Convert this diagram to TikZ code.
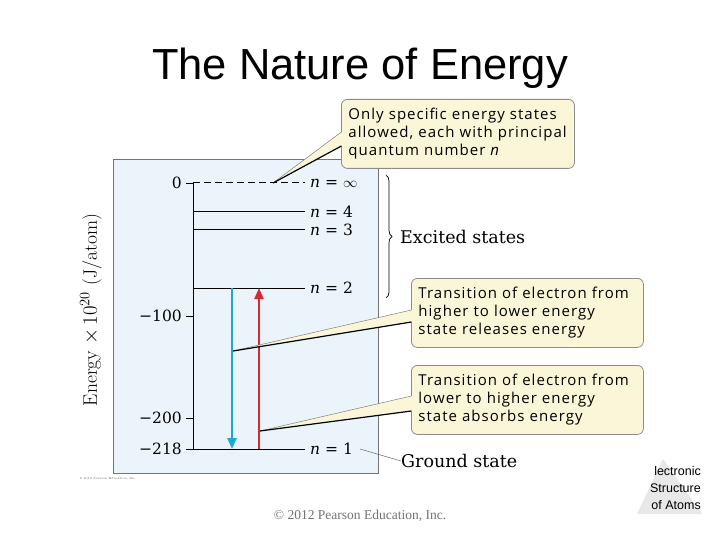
\documentclass[tikz,border=0pt]{standalone}
\usepackage{fontspec}
\usetikzlibrary{arrows.meta,decorations.pathreplacing,calc}
\newfontfamily\titlefont{Liberation Sans}
\newfontfamily\callfont[LetterSpace=7]{Open Sans}
\newfontfamily\labfont{DejaVu Serif}
\newfontfamily\footfont{Liberation Serif}
\definecolor{panelfill}{HTML}{EBF4FB}
\definecolor{calloutfill}{HTML}{FBF6D8}
\definecolor{downblue}{HTML}{1CA9D9}
\definecolor{upred}{HTML}{D42A32}
\begin{document}
\begin{tikzpicture}[x=1pt,y=-1pt,
  callout/.style={draw=black!45, fill=calloutfill, rounded corners=6pt, line width=0.8pt,
    align=left, inner xsep=7pt, inner ysep=3pt, text width=222pt, minimum height=69pt,
    anchor=north west, font=\callfont\fontsize{15}{18}\selectfont},
  lvline/.style={line width=1pt},
  lvlabel/.style={anchor=west, inner xsep=5pt, inner ysep=0pt, font=\labfont\fontsize{15.5}{18}\selectfont},
  ticklabel/.style={anchor=east, inner xsep=4pt, inner ysep=0pt, font=\labfont\fontsize{15.5}{18}\selectfont},
  wedgeshadow/.style={draw=black, line width=1.2pt},
  sidetext/.style={anchor=west, inner sep=0pt, font=\labfont\fontsize{17.5}{20}\selectfont},
]
\useasboundingbox (0,0) rectangle (720,540);
\fill[white] (0,0) rectangle (720,540);

% title
\node[font=\titlefont\fontsize{43.5}{48}\selectfont, anchor=base, inner sep=0pt] (title) at (360,80) {The Nature of Energy};

% panel
\node[draw=black!55, fill=panelfill, line width=0.8pt, minimum width=265pt, minimum height=314pt,
  anchor=north west, inner sep=0pt] (panel) at (113,159) {};
\node[anchor=west, inner sep=0pt, font=\fontsize{3}{4}\selectfont, text=black!60] (tinycopy) at (80,479) {\copyright\ 2012 Pearson Education, Inc.};

% axis
\coordinate (ax0) at (193,183);
\coordinate (ax100) at (193,316);
\coordinate (ax200) at (193,418);
\coordinate (ax218) at (193,449);
\draw[line width=0.8pt] (ax0) -- (ax218);
\foreach \c in {ax0,ax100,ax200,ax218}{\draw[line width=0.8pt] (\c) -- ++(-7,0);}
\node[ticklabel] (t0) at (186,183) {0};
\node[ticklabel] (t100) at (186,316) {−100};
\node[ticklabel] (t200) at (186,418) {−200};
\node[ticklabel] (t218) at (186,449) {−218};

% levels
\node[lvlabel] (linf) at (305,183) {\textit{n} = $\infty$};
\node[lvlabel] (l4) at (305,212) {\textit{n} = 4};
\node[lvlabel] (l3) at (305,230) {\textit{n} = 3};
\node[lvlabel] (l2) at (305,288) {\textit{n} = 2};
\node[lvlabel] (l1) at (305,449) {\textit{n} = 1};
\draw[lvline, dash pattern=on 7pt off 4pt] (ax0) -- (linf.west);
\draw[lvline] (193,212) -- (l4.west);
\draw[lvline] (193,230) -- (l3.west);
\coordinate (lv2) at (193,288);
\draw[lvline] (lv2) -- (l2.west);
\draw[lvline] (186,449) -- (l1.west);

% y label
\node[rotate=90, font=\fontsize{19.5}{22}\selectfont, inner sep=0pt] (ylab) at (91,310) {Energy $\times\,10^{20}$ (J/atom)};

% transitions
\coordinate (bTop) at (232,288);
\coordinate (bBot) at (232,449);
\coordinate (rTop) at (259,288);
\coordinate (rBot) at (259,449);
\draw[downblue, line width=2.3pt, -{Triangle[length=11pt,width=9pt]}] (bTop) -- (bBot);
\draw[upred, line width=2.3pt, -{Triangle[length=11pt,width=9pt]}] (rBot) -- (rTop);

% brace
\draw[line width=0.7pt, decorate, decoration={brace, amplitude=6pt}] (386,175) -- (386,298);
\node[sidetext] (exc) at (400,237) {Excited states};
\node[sidetext] (gs) at (401,461) {Ground state};
\draw[line width=0.4pt, black!70] (l1.east) ++(2,0) -- (gs.west);

% callouts
\node[callout, minimum width=233pt, text width=219pt] (c1) at (341,99) {Only specific energy states\\allowed, each with principal\\quantum number \textit{n}};
\node[callout, minimum width=232pt, text width=218pt] (c2) at (411,278) {Transition of electron from\\higher to lower energy\\state releases energy};
\node[callout, minimum width=232pt, text width=218pt] (c3) at (411,365) {Transition of electron from\\lower to higher energy\\state absorbs energy};

% wedges
\coordinate (p1) at (273,183);
\fill[calloutfill] (p1) -- ($(c1.north west)+(1,33)$) -- ($(c1.north west)+(1,47)$) -- cycle;
\draw[black!50, line width=0.5pt] (p1) -- ($(c1.north west)+(0.4,33)$);
\draw[wedgeshadow] (p1) -- ($(c1.north west)+(0.4,47)$);

\coordinate (p2) at (233,351);
\fill[calloutfill] (p2) -- ($(c2.north west)+(1,32)$) -- ($(c2.north west)+(1,44)$) -- cycle;
\draw[black!50, line width=0.5pt] (p2) -- ($(c2.north west)+(0.4,32)$);
\draw[wedgeshadow] (p2) -- ($(c2.north west)+(0.4,44)$);

\coordinate (p3) at (260,431);
\fill[calloutfill] (p3) -- ($(c3.north west)+(1,31)$) -- ($(c3.north west)+(1,46)$) -- cycle;
\draw[black!50, line width=0.5pt] (p3) -- ($(c3.north west)+(0.4,31)$);
\draw[wedgeshadow] (p3) -- ($(c3.north west)+(0.4,46)$);

% footer
\node[font=\footfont\fontsize{13.5}{16}\selectfont, text=black!55, inner sep=0pt] (foot) at (360,516) {\copyright\ 2012 Pearson Education, Inc.};

% corner logo
\fill[black!9] (663,459) -- (637,514) -- (702,514) -- cycle;
\node[font=\titlefont\fontsize{12.5}{17}\selectfont, align=right, anchor=north east, inner sep=0pt] (corner) at (701,466) {lectronic\\Structure\\of Atoms};
\end{tikzpicture}
\end{document}
